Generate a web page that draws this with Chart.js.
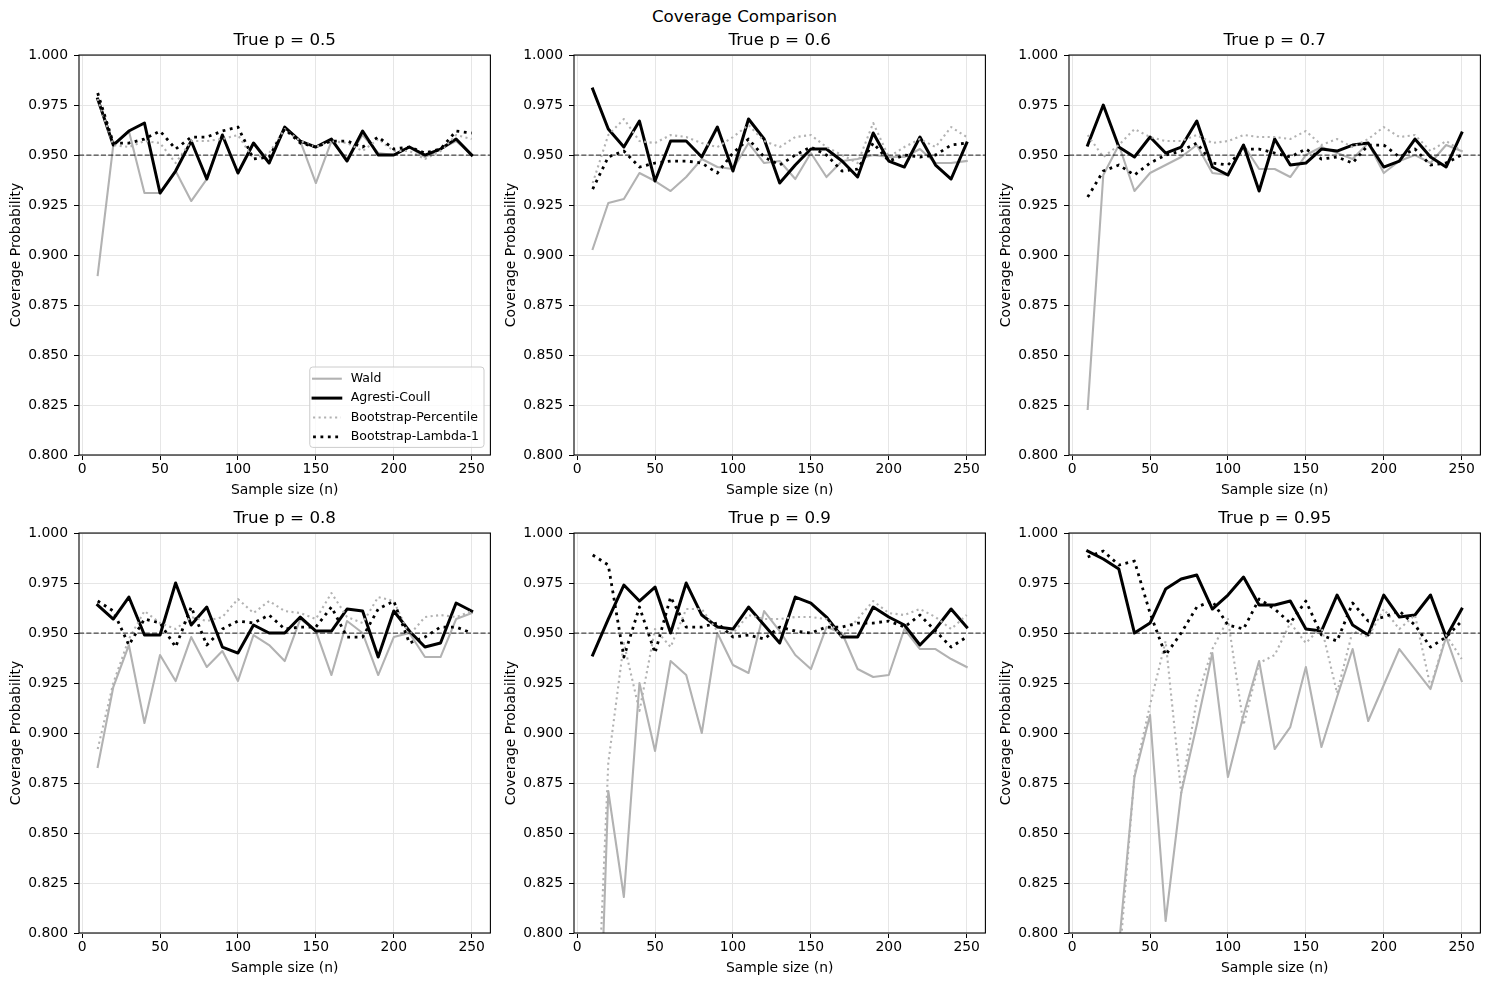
<!DOCTYPE html>
<html>
<head>
<meta charset="utf-8">
<title>Coverage Comparison</title>
<script src="https://cdn.jsdelivr.net/npm/chart.js@4.4.1/dist/chart.umd.min.js"></script>
<style>
  body { margin: 0; background: #fff; width: 1489px; height: 985px; position: relative; overflow: hidden; font-family: 'DejaVu Sans', sans-serif; }
  #suptitle { position: absolute; top: 6px; left: 0; width: 1489px; text-align: center; font-size: 16.7px; line-height: 20px; color: #000; }
  canvas { position: absolute; }
</style>
</head>
<body>
<div id="suptitle">Coverage Comparison</div>
<script>
// x values and axis ticks
const sampleSizes = [10, 20, 30, 40, 50, 60, 70, 80, 90, 100, 110, 120, 130, 140, 150, 160, 170, 180, 190, 200, 210, 220, 230, 240, 250];
const xTicks = [0, 50, 100, 150, 200, 250];
const yTicks = [0.800, 0.825, 0.850, 0.875, 0.900, 0.925, 0.950, 0.975, 1.000];
const trueP = ['0.5', '0.6', '0.7', '0.8', '0.9', '0.95'];
const nominal = 0.95;
const methodNames = ['Wald', 'Agresti-Coull', 'Bootstrap-Percentile', 'Bootstrap-Lambda-1'];

// coverage, true p = 0.5
const wald05 = [0.890, 0.955, 0.962, 0.931, 0.931, 0.942, 0.927, 0.938, 0.960, 0.941, 0.956, 0.946, 0.964, 0.957, 0.936, 0.957, 0.948, 0.960, 0.951, 0.950, 0.954, 0.949, 0.953, 0.957, 0.950];
const ac05   = [0.978, 0.955, 0.962, 0.966, 0.931, 0.942, 0.957, 0.938, 0.960, 0.941, 0.956, 0.946, 0.964, 0.957, 0.954, 0.958, 0.947, 0.962, 0.950, 0.950, 0.954, 0.950, 0.953, 0.958, 0.950];
const pct05  = [0.978, 0.955, 0.954, 0.957, 0.956, 0.946, 0.957, 0.957, 0.958, 0.960, 0.948, 0.951, 0.963, 0.957, 0.954, 0.957, 0.956, 0.952, 0.958, 0.952, 0.952, 0.948, 0.952, 0.960, 0.958];
const lam05  = [0.981, 0.956, 0.956, 0.958, 0.962, 0.953, 0.959, 0.959, 0.962, 0.964, 0.948, 0.949, 0.963, 0.956, 0.954, 0.957, 0.957, 0.954, 0.959, 0.953, 0.954, 0.951, 0.953, 0.962, 0.961];

// true p = 0.6
const wald06 = [0.903, 0.926, 0.928, 0.941, 0.937, 0.932, 0.939, 0.948, 0.944, 0.943, 0.956, 0.946, 0.947, 0.938, 0.951, 0.939, 0.947, 0.948, 0.950, 0.949, 0.949, 0.953, 0.946, 0.946, 0.947];
const ac06   = [0.983, 0.963, 0.954, 0.967, 0.937, 0.957, 0.957, 0.949, 0.964, 0.942, 0.968, 0.958, 0.936, 0.945, 0.953, 0.953, 0.947, 0.939, 0.961, 0.947, 0.944, 0.959, 0.945, 0.938, 0.956];
const pct06  = [0.936, 0.960, 0.968, 0.957, 0.956, 0.960, 0.959, 0.956, 0.954, 0.959, 0.965, 0.957, 0.954, 0.959, 0.960, 0.954, 0.950, 0.946, 0.966, 0.949, 0.954, 0.958, 0.954, 0.964, 0.959];
const lam06  = [0.933, 0.949, 0.952, 0.944, 0.946, 0.947, 0.947, 0.946, 0.941, 0.951, 0.958, 0.949, 0.945, 0.950, 0.954, 0.950, 0.942, 0.943, 0.956, 0.947, 0.950, 0.949, 0.950, 0.955, 0.956];

// true p = 0.7
const wald07 = [0.823, 0.940, 0.955, 0.932, 0.941, 0.945, 0.949, 0.955, 0.941, 0.940, 0.955, 0.943, 0.943, 0.939, 0.950, 0.954, 0.951, 0.948, 0.956, 0.941, 0.947, 0.950, 0.946, 0.955, 0.952];
const ac07   = [0.955, 0.975, 0.954, 0.949, 0.959, 0.951, 0.954, 0.967, 0.944, 0.940, 0.955, 0.932, 0.958, 0.945, 0.946, 0.953, 0.952, 0.955, 0.956, 0.944, 0.947, 0.958, 0.949, 0.944, 0.961];
const pct07  = [0.960, 0.949, 0.955, 0.963, 0.959, 0.957, 0.957, 0.960, 0.956, 0.957, 0.960, 0.959, 0.959, 0.958, 0.962, 0.955, 0.958, 0.954, 0.958, 0.964, 0.959, 0.960, 0.952, 0.957, 0.952];
const lam07  = [0.929, 0.942, 0.945, 0.940, 0.946, 0.950, 0.952, 0.956, 0.946, 0.945, 0.953, 0.953, 0.951, 0.949, 0.953, 0.948, 0.949, 0.946, 0.955, 0.955, 0.949, 0.953, 0.945, 0.946, 0.950];

// true p = 0.8
const wald08 = [0.883, 0.923, 0.944, 0.905, 0.939, 0.926, 0.948, 0.933, 0.941, 0.926, 0.949, 0.944, 0.936, 0.957, 0.951, 0.929, 0.956, 0.950, 0.929, 0.948, 0.950, 0.938, 0.938, 0.957, 0.960];
const ac08   = [0.964, 0.957, 0.968, 0.949, 0.949, 0.975, 0.954, 0.963, 0.943, 0.940, 0.954, 0.950, 0.950, 0.958, 0.951, 0.951, 0.962, 0.961, 0.938, 0.961, 0.951, 0.943, 0.945, 0.965, 0.961];
const pct08  = [0.892, 0.925, 0.947, 0.961, 0.955, 0.952, 0.958, 0.956, 0.958, 0.967, 0.960, 0.966, 0.961, 0.960, 0.957, 0.970, 0.958, 0.955, 0.968, 0.966, 0.949, 0.958, 0.959, 0.958, 0.961];
const lam08  = [0.966, 0.961, 0.944, 0.957, 0.955, 0.943, 0.963, 0.944, 0.952, 0.956, 0.955, 0.959, 0.952, 0.953, 0.953, 0.963, 0.948, 0.948, 0.962, 0.966, 0.945, 0.948, 0.953, 0.953, 0.950];

// true p = 0.9
const wald09 = [0.640, 0.871, 0.818, 0.925, 0.891, 0.936, 0.929, 0.900, 0.950, 0.934, 0.930, 0.961, 0.951, 0.939, 0.932, 0.953, 0.950, 0.932, 0.928, 0.929, 0.952, 0.942, 0.942, 0.937, 0.933];
const ac09   = [0.939, 0.957, 0.974, 0.966, 0.973, 0.950, 0.975, 0.959, 0.953, 0.952, 0.963, 0.954, 0.945, 0.968, 0.965, 0.958, 0.948, 0.948, 0.963, 0.958, 0.954, 0.944, 0.952, 0.962, 0.953];
const pct09  = [0.700, 0.885, 0.945, 0.911, 0.952, 0.943, 0.962, 0.962, 0.951, 0.950, 0.959, 0.957, 0.957, 0.958, 0.958, 0.957, 0.948, 0.957, 0.966, 0.960, 0.959, 0.962, 0.958, 0.952, 0.959];
const lam09  = [0.989, 0.984, 0.938, 0.963, 0.940, 0.968, 0.953, 0.953, 0.955, 0.948, 0.949, 0.947, 0.953, 0.951, 0.950, 0.953, 0.953, 0.955, 0.955, 0.956, 0.953, 0.959, 0.951, 0.943, 0.948];

// true p = 0.95
const wald095 = [0.400, 0.640, 0.793, 0.878, 0.909, 0.806, 0.870, 0.904, 0.940, 0.878, 0.909, 0.936, 0.892, 0.903, 0.933, 0.893, 0.918, 0.942, 0.906, 0.924, 0.942, 0.932, 0.922, 0.948, 0.926];
const ac095   = [0.991, 0.987, 0.982, 0.950, 0.955, 0.972, 0.977, 0.979, 0.962, 0.969, 0.978, 0.964, 0.964, 0.966, 0.952, 0.951, 0.969, 0.954, 0.949, 0.969, 0.958, 0.959, 0.969, 0.948, 0.962];
const pct095  = [0.400, 0.600, 0.783, 0.879, 0.914, 0.946, 0.870, 0.917, 0.942, 0.957, 0.904, 0.935, 0.939, 0.955, 0.945, 0.953, 0.920, 0.951, 0.948, 0.962, 0.952, 0.959, 0.923, 0.949, 0.937];
const lam095  = [0.988, 0.991, 0.984, 0.986, 0.960, 0.939, 0.950, 0.963, 0.966, 0.954, 0.952, 0.967, 0.962, 0.955, 0.966, 0.949, 0.946, 0.965, 0.956, 0.958, 0.961, 0.954, 0.943, 0.948, 0.956];

const coverage = [
  [wald05, ac05, pct05, lam05],
  [wald06, ac06, pct06, lam06],
  [wald07, ac07, pct07, lam07],
  [wald08, ac08, pct08, lam08],
  [wald09, ac09, pct09, lam09],
  [wald095, ac095, pct095, lam095]
];

// line styles, later methods drawn on top
const methodStyles = [
  { color: '#b2b2b2', width: 2.1, dash: [], cap: 'square', order: 4 },
  { color: '#000000', width: 3.0, dash: [], cap: 'square', order: 3 },
  { color: '#b2b2b2', width: 2.1, dash: [2.1, 3.4], cap: 'butt', order: 2 },
  { color: '#000000', width: 2.8, dash: [2.8, 4.6], cap: 'butt', order: 1 }
];

const FONT = "'DejaVu Sans', sans-serif";
const X_MIN = -2, X_MAX = 262;

// frame around each axes
const framePlugin = {
  id: 'frame',
  afterDatasetsDraw(chart) {
    const { ctx, chartArea: a } = chart;
    ctx.save();
    ctx.strokeStyle = '#000';
    ctx.lineWidth = 1.1;
    ctx.strokeRect(a.left, a.top, a.right - a.left, a.bottom - a.top);
    ctx.restore();
  }
};

// matplotlib style legend box in the lower right corner
const boxLegend = {
  id: 'boxLegend',
  afterDraw(chart, args, opts) {
    if (!opts.show) return;
    const { ctx, chartArea: a } = chart;
    const items = chart.data.datasets.filter(d => d.label);
    ctx.save();
    ctx.font = '12.5px ' + FONT;
    const textW = Math.max(...items.map(d => ctx.measureText(d.label).width));
    const w = 41 + textW + 5, h = 80.4;
    const x = a.right - 6.4 - w, y = a.bottom - 7.6 - h;
    ctx.beginPath();
    ctx.roundRect(x, y, w, h, 3);
    ctx.fillStyle = 'rgba(255,255,255,0.8)';
    ctx.fill();
    ctx.strokeStyle = '#cccccc';
    ctx.lineWidth = 1;
    ctx.stroke();
    items.forEach((d, i) => {
      const cy = y + 11.7 + i * 19.4;
      ctx.beginPath();
      ctx.setLineDash(d.borderDash);
      ctx.lineCap = d.borderCapStyle;
      ctx.strokeStyle = d.borderColor;
      ctx.lineWidth = d.borderWidth;
      ctx.moveTo(x + 3.3, cy);
      ctx.lineTo(x + 31, cy);
      ctx.stroke();
      ctx.setLineDash([]);
      ctx.fillStyle = '#000';
      ctx.textBaseline = 'middle';
      ctx.textAlign = 'left';
      ctx.fillText(d.label, x + 41, cy);
    });
    ctx.restore();
  }
};

const colLefts = [0, 495, 990];
const rowTops = [25, 503];

trueP.forEach((p, idx) => {
  const canvas = document.createElement('canvas');
  canvas.width = 495;
  canvas.height = 475;
  canvas.style.left = colLefts[idx % 3] + 'px';
  canvas.style.top = rowTops[Math.floor(idx / 3)] + 'px';
  document.body.appendChild(canvas);

  const datasets = coverage[idx].map((values, m) => ({
    label: methodNames[m],
    data: sampleSizes.map((n, i) => ({ x: n, y: values[i] })),
    borderColor: methodStyles[m].color,
    borderWidth: methodStyles[m].width,
    borderDash: methodStyles[m].dash,
    borderCapStyle: methodStyles[m].cap,
    borderJoinStyle: 'round',
    order: methodStyles[m].order,
    pointRadius: 0,
    tension: 0,
    fill: false
  }));

  // dashed nominal level across the axes
  datasets.push({
    data: [{ x: X_MIN, y: nominal }, { x: X_MAX, y: nominal }],
    borderColor: 'rgba(0,0,0,0.7)',
    borderWidth: 1.3,
    borderDash: [5.1, 2.2],
    order: 0,
    pointRadius: 0,
    fill: false
  });

  new Chart(canvas.getContext('2d'), {
    type: 'line',
    data: { datasets: datasets },
    plugins: [framePlugin, boxLegend],
    options: {
      responsive: false,
      animation: false,
      devicePixelRatio: 1,
      layout: { padding: { left: 0, right: 4.6, top: 0, bottom: 0 } },
      plugins: {
        legend: { display: false },
        tooltip: { enabled: false },
        boxLegend: { show: idx === 0 },
        title: {
          display: true,
          text: 'True p = ' + p,
          fullSize: false,
          color: '#000',
          font: { family: FONT, size: 16.7, weight: 'normal' },
          padding: { top: 6, bottom: 4 }
        }
      },
      scales: {
        x: {
          type: 'linear',
          min: X_MIN,
          max: X_MAX,
          afterBuildTicks: s => { s.ticks = xTicks.map(v => ({ value: v })); },
          afterFit: s => { s.height = 45; },
          ticks: { color: '#000', font: { family: FONT, size: 13.9 }, padding: 1, maxRotation: 0, autoSkip: false, callback: v => String(v) },
          grid: { color: '#e6e6e6', lineWidth: 1, tickColor: '#000', tickLength: 5, tickWidth: 1 },
          border: { display: false },
          title: { display: true, text: 'Sample size (n)', color: '#000', font: { family: FONT, size: 13.9 }, padding: { top: 0, bottom: 1.7 } }
        },
        y: {
          type: 'linear',
          min: 0.8,
          max: 1.0,
          afterBuildTicks: s => { s.ticks = yTicks.map(v => ({ value: v })); },
          afterFit: s => { s.width = 79; },
          ticks: { color: '#000', font: { family: FONT, size: 13.9 }, padding: 6, autoSkip: false, callback: v => Number(v).toFixed(3) },
          grid: { color: '#e6e6e6', lineWidth: 1, tickColor: '#000', tickLength: 5, tickWidth: 1 },
          border: { display: false },
          title: { display: true, text: 'Coverage Probability', color: '#000', font: { family: FONT, size: 13.9 }, padding: { top: 7.6, bottom: 0 } }
        }
      }
    }
  });
});
</script>
</body>
</html>
